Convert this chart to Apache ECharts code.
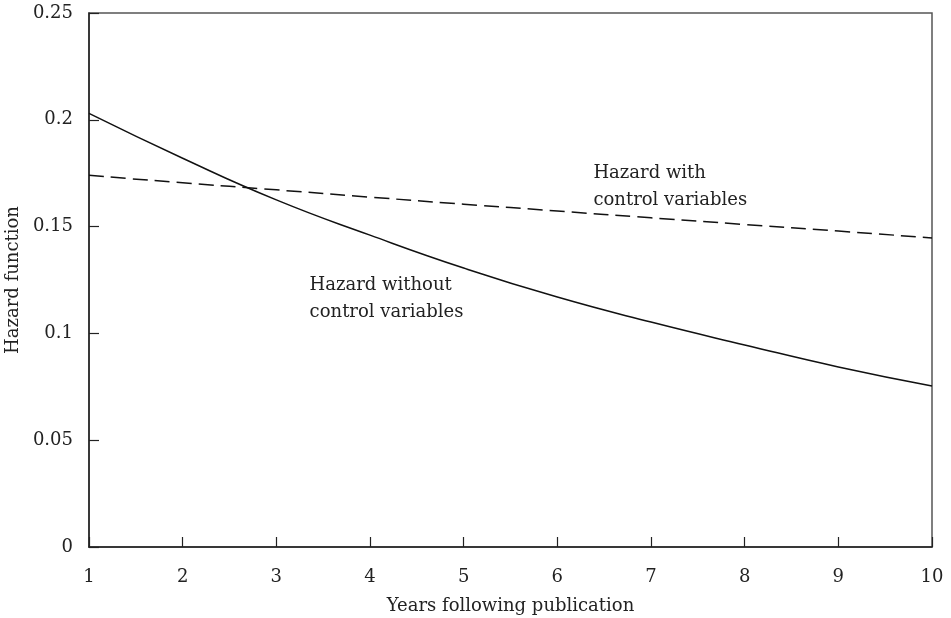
<!DOCTYPE html>
<html>
<head>
<meta charset="utf-8">
<script src="https://cdn.jsdelivr.net/npm/echarts@6/dist/echarts.min.js"></script>
<style>html,body{margin:0;padding:0;background:#fff}#c{width:951px;height:618px}</style>
</head>
<body>
<div id="c"></div>
<script>
var years = [1, 2, 3, 4, 5, 6, 7, 8, 9, 10];
var hazardWithout = [0.203, 0.182, 0.1625, 0.146, 0.1306, 0.117, 0.1053, 0.0946, 0.0843, 0.0754];
var hazardWith = [0.174, 0.1705, 0.1672, 0.1638, 0.1605, 0.1573, 0.1541, 0.151, 0.1479, 0.1447];
var yTicks = [0, 0.05, 0.1, 0.15, 0.2, 0.25];
var labelWith = 'Hazard with\ncontrol variables';
var labelWithout = 'Hazard without\ncontrol variables';

var FONT = 'DejaVu Serif';
var TXT = '#222';
var FS = 18;
function pairs(ys) { return years.map(function (x, i) { return [x, ys[i]]; }); }
function annot(coord, text) {
  return {
    symbol: 'circle', symbolSize: 1, itemStyle: { color: 'rgba(0,0,0,0)' },
    silent: true,
    data: [{ coord: coord }],
    label: { show: true, formatter: text, position: 'right', distance: 0, align: 'left', verticalAlign: 'middle',
      fontFamily: FONT, fontSize: FS, color: TXT, lineHeight: 27 }
  };
}

var chart = echarts.init(document.getElementById('c'));
chart.setOption({
  animation: false,
  backgroundColor: '#fff',
  grid: { left: 89, top: 13, width: 843, height: 534, containLabel: false, outerBoundsMode: 'none',
    show: true, borderColor: '#555', borderWidth: 1.5, backgroundColor: 'transparent' },
  xAxis: {
    type: 'value', min: 1, max: 10, interval: 1,
    name: 'Years following publication', nameLocation: 'middle', nameGap: 50,
    nameTextStyle: { fontFamily: FONT, fontSize: FS, color: TXT },
    axisLine: { lineStyle: { color: '#222', width: 1.5 } },
    axisTick: { inside: true, length: 10, lineStyle: { color: '#222', width: 1.2 } },
    axisLabel: { fontFamily: FONT, fontSize: FS, color: TXT, margin: 21, formatter: function (v) { return String(v); } },
    splitLine: { show: false }
  },
  yAxis: {
    type: 'value', min: 0, max: 0.25, interval: 0.05,
    name: 'Hazard function', nameLocation: 'middle', nameGap: 62, nameRotate: 90,
    nameTextStyle: { fontFamily: FONT, fontSize: FS, color: TXT },
    axisLine: { lineStyle: { color: '#222', width: 1.5 } },
    axisTick: { inside: true, length: 10, lineStyle: { color: '#222', width: 1.2 } },
    axisLabel: { fontFamily: FONT, fontSize: FS, color: TXT, margin: 16,
      formatter: function (v) { var s = yTicks.filter(function (t) { return Math.abs(t - v) < 1e-9; }); return s.length ? String(+s[0].toFixed(2)) : ''; } },
    splitLine: { show: false }
  },
  series: [
    {
      type: 'line', data: pairs(hazardWithout), smooth: true, symbol: 'none',
      lineStyle: { color: '#111', width: 1.5 },
      markPoint: annot([3.35, 0.1163], labelWithout)
    },
    {
      type: 'line', data: pairs(hazardWith), smooth: true, symbol: 'none',
      lineStyle: { color: '#111', width: 1.5, type: [15, 7] },
      markPoint: annot([6.38, 0.1687], labelWith)
    }
  ]
});
</script>
</body>
</html>
